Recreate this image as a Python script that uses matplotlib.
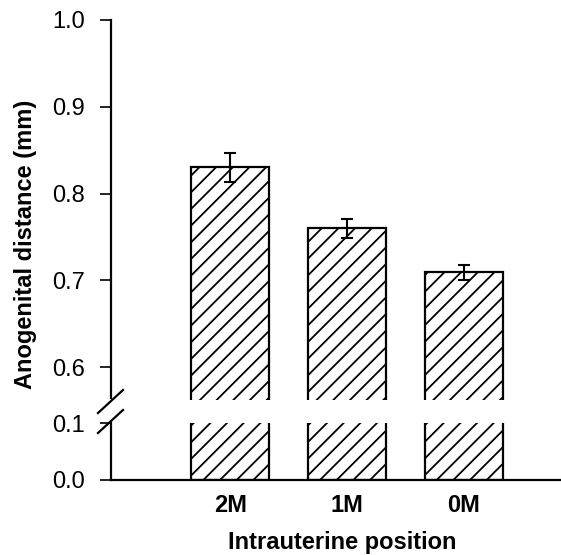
import matplotlib

matplotlib.use("Agg")
import matplotlib.pyplot as plt
from matplotlib.lines import Line2D

plt.rcParams["font.family"] = ["Liberation Sans", "DejaVu Sans"]
plt.rcParams["hatch.linewidth"] = 1.3

# data
positions = ["2M", "1M", "0M"]
ag_distance = [0.830, 0.760, 0.709]
ag_sem = [0.017, 0.011, 0.009]

W, H = 561, 555
fig = plt.figure(figsize=(W / 100, H / 100), dpi=100)

x_lim = (-1.02, 2.83)
ax_top = fig.add_axes([111 / W, 1 - 400 / H, (W - 111) / W, 380 / H])
ax_bot = fig.add_axes([111 / W, 1 - 480 / H, (W - 111) / W, 57 / H])

xs = list(range(len(positions)))
for ax in (ax_top, ax_bot):
    ax.bar(xs, ag_distance, width=0.667, color="white", edgecolor="black",
           linewidth=1.6, hatch="//")
    ax.set_xlim(*x_lim)
    for s in ("top", "right"):
        ax.spines[s].set_visible(False)
    ax.spines["left"].set_linewidth(1.6)
    ax.tick_params(axis="y", direction="out", length=8, width=1.2, pad=11,
                   labelsize=17)

ax_top.errorbar(xs, ag_distance, yerr=ag_sem, fmt="none", ecolor="black",
                elinewidth=1.5, capsize=4, capthick=1.5)
ax_top.set_ylim(0.562, 1.0)
ax_top.set_yticks([0.6, 0.7, 0.8, 0.9, 1.0])
ax_top.set_yticklabels(["0.6", "0.7", "0.8", "0.9", "1.0"])
ax_top.spines["bottom"].set_visible(False)
ax_top.spines["left"].set_bounds(0.564, 1.0)
ax_top.set_xticks([])

ax_bot.set_ylim(0, 0.1)
ax_bot.set_yticks([0.0, 0.1])
ax_bot.set_yticklabels(["0.0", "0.1"])
ax_bot.spines["left"].set_bounds(0, 0.1)
ax_bot.spines["bottom"].set_linewidth(1.6)
ax_bot.set_xticks(xs)
ax_bot.set_xticklabels(positions, fontweight="bold", fontsize=17)
ax_bot.tick_params(axis="x", length=0, pad=10)

# axis-break slashes
for y0, y1 in ((413, 390), (433, 410)):
    fig.add_artist(Line2D([98 / W, 123 / W], [1 - y0 / H, 1 - y1 / H],
                          color="black", linewidth=1.6))

fig.text(26 / W, 1 - 244 / H, "Anogenital distance (mm)", rotation=90,
         ha="center", va="center", fontsize=17, fontweight="bold")
fig.text(342 / W, 1 - 543 / H, "Intrauterine position", ha="center",
         va="center", fontsize=17, fontweight="bold")

fig.savefig("out.png", dpi=100)
